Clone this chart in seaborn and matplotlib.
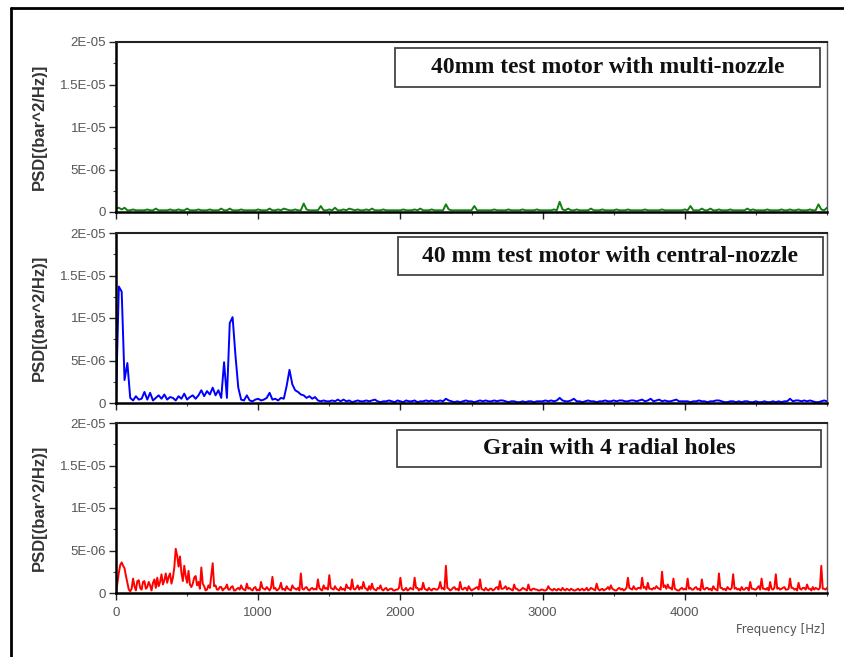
import numpy as np
import pandas as pd
import matplotlib
matplotlib.use("Agg")
import matplotlib.pyplot as plt
from matplotlib.patches import Rectangle
from matplotlib.lines import Line2D
from matplotlib.ticker import MultipleLocator
import seaborn as sns

# PSD values in units of 1e-6 bar^2/Hz.
# Multi- and central-nozzle spectra: 20 Hz resolution, one row = 200 Hz.
psd_multi_nozzle = [
    0.4, 0.5, 0.3, 0.5, 0.2, 0.2, 0.3, 0.2, 0.2, 0.2,
    0.2, 0.3, 0.2, 0.2, 0.4, 0.2, 0.2, 0.2, 0.2, 0.3,
    0.2, 0.2, 0.3, 0.2, 0.2, 0.4, 0.2, 0.2, 0.2, 0.3,
    0.2, 0.2, 0.2, 0.3, 0.2, 0.2, 0.2, 0.4, 0.2, 0.2,
    0.4, 0.2, 0.2, 0.2, 0.3, 0.2, 0.2, 0.2, 0.2, 0.2,
    0.3, 0.2, 0.2, 0.2, 0.4, 0.2, 0.2, 0.3, 0.2, 0.4,
    0.3, 0.2, 0.2, 0.3, 0.2, 0.2, 1.0, 0.3, 0.2, 0.2,
    0.2, 0.2, 0.7, 0.2, 0.2, 0.3, 0.2, 0.5, 0.2, 0.2,
    0.3, 0.2, 0.4, 0.3, 0.2, 0.3, 0.2, 0.2, 0.3, 0.2,
    0.4, 0.2, 0.2, 0.2, 0.3, 0.2, 0.2, 0.2, 0.2, 0.2,
    0.2, 0.3, 0.2, 0.2, 0.2, 0.3, 0.2, 0.4, 0.2, 0.2,
    0.2, 0.3, 0.2, 0.2, 0.2, 0.2, 0.9, 0.3, 0.2, 0.2,
    0.2, 0.2, 0.2, 0.2, 0.2, 0.2, 0.7, 0.2, 0.2, 0.2,
    0.2, 0.2, 0.2, 0.3, 0.2, 0.2, 0.2, 0.2, 0.3, 0.2,
    0.2, 0.2, 0.2, 0.3, 0.2, 0.2, 0.2, 0.2, 0.3, 0.2,
    0.2, 0.2, 0.2, 0.2, 0.3, 0.2, 1.2, 0.3, 0.2, 0.4,
    0.2, 0.2, 0.3, 0.2, 0.2, 0.2, 0.2, 0.4, 0.2, 0.2,
    0.2, 0.3, 0.2, 0.2, 0.2, 0.2, 0.3, 0.2, 0.2, 0.2,
    0.3, 0.2, 0.2, 0.2, 0.2, 0.2, 0.3, 0.2, 0.2, 0.2,
    0.2, 0.2, 0.3, 0.2, 0.2, 0.2, 0.2, 0.2, 0.2, 0.2,
    0.3, 0.2, 0.7, 0.2, 0.2, 0.2, 0.4, 0.2, 0.2, 0.4,
    0.2, 0.2, 0.3, 0.2, 0.2, 0.2, 0.3, 0.2, 0.2, 0.2,
    0.2, 0.2, 0.4, 0.2, 0.3, 0.2, 0.2, 0.2, 0.2, 0.3,
    0.2, 0.2, 0.2, 0.2, 0.3, 0.2, 0.2, 0.3, 0.2, 0.2,
    0.3, 0.2, 0.2, 0.2, 0.3, 0.2, 0.2, 0.9, 0.3, 0.2,
    0.5,
]

psd_central_nozzle = [
    0.4, 13.7, 13.1, 2.7, 4.7, 0.6, 0.3, 0.8, 0.4, 0.5,
    1.3, 0.4, 1.2, 0.3, 0.6, 0.9, 0.5, 1.0, 0.4, 0.7,
    0.6, 0.3, 0.8, 0.5, 1.1, 0.4, 0.7, 0.9, 0.5, 0.9,
    1.5, 0.8, 1.4, 1.0, 1.8, 0.9, 1.5, 0.6, 4.8, 0.6,
    9.4, 10.1, 5.6, 1.8, 0.4, 0.3, 0.9, 0.3, 0.2, 0.4,
    0.5, 0.3, 0.4, 0.6, 1.2, 0.4, 0.5, 0.3, 0.6, 0.5,
    2.0, 3.9, 2.2, 1.5, 1.3, 1.0, 0.9, 0.6, 0.8, 0.5,
    0.7, 0.3, 0.2, 0.3, 0.2, 0.2, 0.3, 0.2, 0.4, 0.2,
    0.4, 0.2, 0.3, 0.1, 0.2, 0.3, 0.2, 0.2, 0.3, 0.2,
    0.3, 0.4, 0.2, 0.1, 0.2, 0.2, 0.3, 0.2, 0.1, 0.3,
    0.2, 0.1, 0.3, 0.2, 0.2, 0.3, 0.1, 0.2, 0.2, 0.3,
    0.2, 0.3, 0.2, 0.2, 0.3, 0.2, 0.5, 0.3, 0.2, 0.1,
    0.2, 0.1, 0.2, 0.3, 0.2, 0.2, 0.1, 0.2, 0.3, 0.2,
    0.3, 0.2, 0.2, 0.3, 0.2, 0.3, 0.3, 0.2, 0.1, 0.2,
    0.2, 0.1, 0.1, 0.2, 0.1, 0.2, 0.2, 0.1, 0.2, 0.2,
    0.2, 0.3, 0.2, 0.3, 0.2, 0.3, 0.6, 0.3, 0.2, 0.2,
    0.3, 0.5, 0.2, 0.2, 0.1, 0.2, 0.3, 0.2, 0.2, 0.1,
    0.2, 0.2, 0.3, 0.2, 0.2, 0.3, 0.2, 0.3, 0.3, 0.2,
    0.2, 0.3, 0.3, 0.2, 0.3, 0.4, 0.2, 0.3, 0.5, 0.2,
    0.3, 0.4, 0.2, 0.3, 0.2, 0.2, 0.3, 0.4, 0.2, 0.2,
    0.2, 0.2, 0.1, 0.2, 0.2, 0.3, 0.2, 0.2, 0.1, 0.2,
    0.2, 0.3, 0.3, 0.2, 0.1, 0.1, 0.2, 0.2, 0.1, 0.2,
    0.1, 0.2, 0.2, 0.1, 0.1, 0.2, 0.1, 0.1, 0.2, 0.1,
    0.1, 0.2, 0.1, 0.2, 0.1, 0.2, 0.2, 0.5, 0.2, 0.3,
    0.3, 0.2, 0.3, 0.2, 0.3, 0.2, 0.1, 0.1, 0.2, 0.3,
    0.2,
]

# Radial-hole grain spectrum: 10 Hz resolution, one row = 200 Hz.
psd_radial_holes = [
    0.0, 1.2, 2.4, 3.3, 3.6, 3.2, 2.9, 2.0, 1.2, 0.4, 0.2, 0.5, 1.7, 0.8, 0.3, 1.4, 1.5, 0.6, 0.4, 1.3,
    1.4, 0.5, 0.7, 1.3, 0.9, 0.3, 1.2, 1.6, 0.6, 1.8, 0.8, 1.3, 2.2, 1.0, 1.5, 2.3, 1.2, 1.9, 2.3, 1.1,
    1.8, 3.0, 5.2, 4.4, 3.1, 4.3, 2.4, 1.4, 3.2, 2.0, 1.2, 2.6, 1.0, 0.7, 1.1, 1.8, 2.0, 0.9, 1.3, 0.5,
    3.0, 1.1, 0.8, 0.3, 0.4, 0.9, 0.6, 2.0, 3.5, 0.8, 0.9, 0.4, 0.4, 0.7, 0.7, 0.3, 0.5, 0.6, 1.0, 0.4,
    0.4, 0.7, 0.8, 0.3, 0.3, 0.5, 0.6, 0.4, 0.9, 0.5, 0.4, 0.3, 1.1, 0.5, 0.6, 0.4, 0.3, 0.6, 0.7, 0.3,
    0.4, 0.3, 1.3, 0.6, 0.5, 0.4, 0.7, 0.5, 0.3, 0.6, 1.9, 0.5, 0.6, 0.3, 0.4, 0.6, 1.2, 0.4, 0.5, 0.3,
    0.8, 0.5, 0.4, 0.3, 0.9, 0.6, 0.5, 0.4, 0.6, 0.3, 2.3, 0.5, 0.4, 0.6, 0.7, 0.4, 0.3, 0.5, 0.6, 0.4,
    0.5, 0.4, 1.6, 0.6, 0.4, 0.3, 0.9, 0.5, 0.6, 0.4, 2.1, 0.6, 0.5, 0.4, 0.8, 0.5, 0.4, 0.3, 0.7, 0.4,
    0.5, 0.3, 1.0, 0.6, 0.6, 0.4, 1.6, 0.5, 0.4, 0.6, 0.9, 0.4, 0.7, 0.5, 1.3, 0.6, 0.5, 0.3, 0.8, 0.4,
    1.1, 0.5, 0.4, 0.3, 0.6, 0.5, 0.9, 0.4, 0.3, 0.5, 0.6, 0.3, 0.4, 0.5, 0.5, 0.3, 0.3, 0.4, 0.4, 0.6,
    1.8, 0.5, 0.3, 0.4, 0.6, 0.3, 0.4, 0.6, 0.5, 0.4, 1.8, 0.6, 0.6, 0.3, 0.5, 0.4, 1.2, 0.5, 0.4, 0.3,
    0.6, 0.4, 0.3, 0.5, 0.5, 0.4, 0.4, 0.6, 1.3, 0.5, 0.6, 0.4, 3.2, 0.6, 0.5, 0.3, 0.4, 0.6, 0.7, 0.4,
    0.5, 0.3, 1.3, 0.5, 0.4, 0.6, 0.6, 0.3, 0.8, 0.5, 0.3, 0.4, 0.5, 0.6, 0.7, 0.4, 1.6, 0.5, 0.4, 0.3,
    0.6, 0.4, 0.3, 0.5, 0.5, 0.3, 0.4, 0.6, 0.7, 0.4, 1.4, 0.5, 0.5, 0.6, 0.8, 0.4, 0.6, 0.5, 0.4, 0.3,
    1.0, 0.5, 0.5, 0.3, 0.3, 0.4, 0.6, 0.5, 0.4, 0.3, 1.0, 0.4, 0.3, 0.5, 0.5, 0.4, 0.4, 0.3, 0.3, 0.4,
    0.4, 0.3, 0.3, 0.4, 0.8, 0.5, 0.4, 0.3, 0.5, 0.4, 0.3, 0.5, 0.4, 0.3, 0.6, 0.4, 0.3, 0.5, 0.4, 0.3,
    0.5, 0.4, 0.3, 0.3, 0.4, 0.5, 0.3, 0.4, 0.5, 0.3, 0.4, 0.6, 0.3, 0.4, 0.6, 0.5, 0.4, 0.3, 1.1, 0.5,
    0.3, 0.4, 0.5, 0.3, 0.4, 0.5, 0.7, 0.4, 0.9, 0.5, 0.4, 0.3, 0.3, 0.5, 0.6, 0.4, 0.5, 0.3, 0.4, 0.6,
    1.8, 0.6, 0.5, 0.4, 0.8, 0.5, 0.4, 0.6, 0.6, 0.5, 1.8, 0.6, 0.7, 0.4, 1.2, 0.5, 0.5, 0.4, 0.6, 0.5,
    0.8, 0.6, 0.5, 0.4, 2.5, 0.7, 0.9, 0.5, 1.0, 0.6, 0.6, 0.4, 1.7, 0.5, 0.4, 0.3, 0.3, 0.5, 0.6, 0.4,
    0.5, 0.4, 1.7, 0.5, 0.6, 0.4, 0.4, 0.6, 0.7, 0.4, 0.5, 0.3, 1.6, 0.5, 0.4, 0.6, 0.6, 0.4, 0.5, 0.3,
    0.8, 0.5, 0.4, 0.3, 2.3, 0.6, 0.6, 0.4, 0.5, 0.3, 0.7, 0.5, 0.4, 0.6, 2.2, 0.5, 0.6, 0.4, 0.5, 0.3,
    0.7, 0.4, 0.4, 0.6, 0.6, 0.3, 1.3, 0.5, 0.5, 0.4, 0.4, 0.6, 0.8, 0.4, 1.7, 0.5, 0.5, 0.4, 0.6, 0.3,
    1.3, 0.5, 0.4, 0.6, 2.2, 0.5, 0.6, 0.4, 0.5, 0.6, 0.7, 0.4, 0.4, 0.5, 1.7, 0.6, 0.6, 0.4, 0.5, 0.3,
    1.2, 0.5, 0.4, 0.6, 0.6, 0.4, 1.0, 0.5, 0.5, 0.3, 0.7, 0.4, 0.6, 0.5, 0.4, 0.6, 3.2, 0.5, 0.5, 0.4,
    0.6,
]

# Frequency step of each spectrum, Hz
freq_steps = [20, 20, 10]

panel_titles = [
    "40mm test motor with multi-nozzle",
    "40 mm test motor with central-nozzle",
    "Grain with 4 radial holes",
]
panel_colors = ["#108010", "#0000ff", "#ff0000"]
ytick_values = [0, 5e-6, 1e-5, 1.5e-5, 2e-5]
ytick_labels = ["0", "5E-06", "1E-05", "1.5E-05", "2E-05"]
xtick_values = [0, 1000, 2000, 3000, 4000]
xtick_labels = ["0", "1000", "2000", "3000", "4000"]

sns.set_theme(style="white")
plt.rcParams["font.family"] = ["Liberation Sans", "DejaVu Sans"]

W, H = 844, 657
fig = plt.figure(figsize=(W / 100, H / 100), dpi=100)
fig.patch.set_facecolor("white")

left_px, right_px = 116, 827
panel_tops = [42, 233, 423]
panel_h = 170

# Title boxes, in pixel coordinates (left, top, right, bottom)
boxes_px = [(395, 48, 820, 87), (398, 237, 823, 275), (397, 430, 821, 467)]

series = [psd_multi_nozzle, psd_central_nozzle, psd_radial_holes]

for i, (vals, step, color, title, top_px, box) in enumerate(
        zip(series, freq_steps, panel_colors, panel_titles, panel_tops, boxes_px)):
    ax = fig.add_axes([left_px / W, 1 - (top_px + panel_h) / H,
                       (right_px - left_px) / W, panel_h / H])
    freq = np.arange(len(vals)) * step
    df = pd.DataFrame({"Frequency": freq, "PSD": np.array(vals) * 1e-6})
    sns.lineplot(data=df, x="Frequency", y="PSD", ax=ax, color=color,
                 linewidth=1.4, estimator=None)
    ax.set_xlim(0, 5000)
    ax.set_ylim(0, 2e-5)

    ax.set_yticks(ytick_values)
    ax.set_yticklabels(ytick_labels)
    ax.yaxis.set_minor_locator(MultipleLocator(2.5e-6))
    ax.set_xticks(xtick_values)
    ax.xaxis.set_minor_locator(MultipleLocator(500))
    if i < 2:
        ax.set_xticklabels([])
    else:
        ax.set_xticklabels(xtick_labels)

    ax.tick_params(axis="both", which="major", direction="out", length=5,
                   width=1.0, color="#222222", labelsize=9.5,
                   labelcolor="#555555", bottom=True, left=True)
    ax.tick_params(axis="both", which="minor", direction="out", length=2.5,
                   width=0.8, color="#444444", bottom=True, left=True)
    ax.tick_params(axis="x", which="major", pad=5)
    ax.tick_params(axis="y", which="major", pad=2)

    for side in ("left", "bottom"):
        ax.spines[side].set_color("black")
        ax.spines[side].set_linewidth(1.8)
    ax.spines["top"].set_color("#222222")
    ax.spines["top"].set_linewidth(1.5)
    ax.spines["right"].set_color("#555555")
    ax.spines["right"].set_linewidth(1.0)

    ax.set_xlabel("")
    ax.set_ylabel("PSD[(bar^2/Hz)]", fontsize=12, fontweight="bold",
                  color="#333333", labelpad=9)

    # Title box drawn in axes coordinates
    bl, bt, br, bb = box
    x0 = (bl - left_px) / (right_px - left_px)
    x1 = (br - left_px) / (right_px - left_px)
    y0 = 1 - (bb - top_px) / panel_h
    y1 = 1 - (bt - top_px) / panel_h
    ax.add_patch(Rectangle((x0, y0), x1 - x0, y1 - y0, transform=ax.transAxes,
                           facecolor="white", edgecolor="#444444", lw=1.3,
                           zorder=5))
    ax.text((x0 + x1) / 2, (y0 + y1) / 2, title, transform=ax.transAxes,
            ha="center", va="center", fontsize=17, fontweight="bold",
            family=["Liberation Serif", "DejaVu Serif"], color="#111111",
            zorder=6)

fig.text(825 / W, 1 - 629 / H, "Frequency [Hz]", ha="right", va="center",
         fontsize=8.5, color="#555555", family=["DejaVu Sans"])

# Outer frame (left and top edges)
fig.add_artist(Line2D([11 / W, 11 / W], [0, 1 - 8 / H], color="black",
                      lw=2, transform=fig.transFigure))
fig.add_artist(Line2D([11 / W, 1], [1 - 8 / H, 1 - 8 / H], color="black",
                      lw=2, transform=fig.transFigure))

fig.savefig("out.png", dpi=100, facecolor="white")
